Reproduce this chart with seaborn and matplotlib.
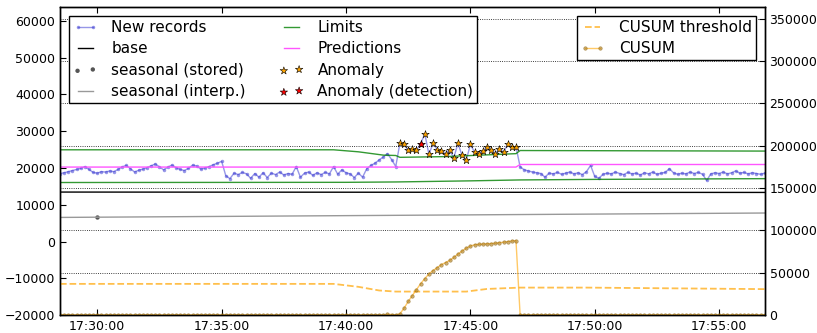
import pandas as pd
import matplotlib
matplotlib.use("Agg")
import matplotlib.pyplot as plt
import matplotlib.dates as mdates
import seaborn as sns

# ---------------- data ----------------
day = "2016-01-01 "
record_times = pd.date_range(day + "17:28:30", periods=171, freq="10s")

new_records = [
    18500, 18700, 19000,
    19300, 19600, 19900, 20400, 19600, 18800,   # 17:29
    18600, 19000, 18900, 19200, 19000, 19600,   # 17:30
    20300, 20700, 19800, 18900, 19400, 19700,   # 17:31
    20100, 20600, 21100, 20300, 19500, 20200,   # 17:32
    20800, 20100, 19600, 19300, 19900, 20800,   # 17:33
    20500, 19700, 20000, 20400, 20900, 21300,   # 17:34
    21800, 17900, 17100, 18600, 18200, 18800,   # 17:35
    18400, 17200, 18500, 17500, 18700, 17400,   # 17:36
    18600, 18200, 18900, 18100, 18500, 18300,   # 17:37
    20400, 17500, 18600, 18900, 18000, 18700,   # 17:38
    18200, 18800, 18400, 20400, 18300, 19500,   # 17:39
    18700, 18400, 17400, 18600, 17500, 19800,   # 17:40
    20700, 21300, 22200, 23000, 23900, 22300,   # 17:41
    20400, 26750, 26400, 24800, 25200, 24800,   # 17:42
    26600, 29300, 23700, 26700, 25000, 24500,   # 17:43
    23900, 24800, 22800, 26700, 23400, 22100,   # 17:44
    26400, 24300, 23900, 24500, 25700, 24900,   # 17:45
    23900, 25200, 24300, 26400, 25600, 25800,   # 17:46
    20300, 19500, 19200, 18900, 18700, 18500,   # 17:47
    17500, 18600, 18400, 18800, 18300, 18600,   # 17:48
    18900, 18400, 18700, 18200, 19000, 20700,   # 17:49
    17700, 17200, 18300, 18600, 18400, 18900,   # 17:50
    18500, 18200, 18800, 18400, 18600, 18100,   # 17:51
    18700, 18400, 18900, 18300, 18600, 18800,   # 17:52
    19800, 18700, 18300, 18600, 18400, 18900,   # 17:53
    18500, 18800, 18300, 16600, 18400, 18700,   # 17:54
    18500, 18900, 18400, 18700, 19200, 18600,   # 17:55
    18800, 18400, 18700, 18500, 18300, 18600,   # 17:56
]

cusum = ([0] * 79 + [800, 600, 0] +
         [1500, 8000, 16000, 23000, 30000, 37000, 43000, 48500, 52500, 56000,
          59500, 62000, 64500, 68000, 72000, 75500, 79000, 81500, 83000, 83500,
          83800, 84000, 84300, 84800, 85500, 86000, 86800, 87500, 88000] +
         [0] * 60)

anomaly_from, anomaly_to = day + "17:42:10", day + "17:46:50"
detection_time = [pd.Timestamp(day + "17:43:00")]
detection_value = [26600]

limit_up_times = ["17:28:30", "17:39:30", "17:40:30", "17:41:30", "17:42:00", "17:42:10",
                  "17:44:00", "17:46:50", "17:47:00", "17:56:50"]
limit_up = [24950, 24950, 24400, 23500, 23400, 22900, 23100, 23900, 24750, 24600]
limit_low_times = ["17:28:30", "17:40:00", "17:42:00", "17:45:00", "17:47:00", "17:50:00", "17:56:50"]
limit_low = [16050, 16100, 16200, 16500, 16750, 16900, 17100]
pred_times = ["17:28:30", "17:46:50", "17:47:00", "17:56:50"]
predictions = [20250, 20250, 20950, 20950]
base_times = ["17:28:30", "17:56:50"]
base = [13450, 13350]
seas_interp_times = ["17:28:30", "17:56:50"]
seas_interp = [6550, 7750]
seas_stored_times = ["17:30:00"]
seas_stored = [6650]
thr_times = ["17:28:30", "17:39:30", "17:40:30", "17:41:20", "17:42:00", "17:44:50",
             "17:45:40", "17:47:00", "17:49:40", "17:56:50"]
cusum_threshold = [36800, 36800, 33300, 29000, 27700, 27700, 30800, 32400, 32400, 30600]


def tt(lst):
    return pd.to_datetime([day + s for s in lst])


records = pd.DataFrame({"time": record_times, "value": new_records, "cusum": cusum})
anomalies = records[(records["time"] >= anomaly_from) & (records["time"] <= anomaly_to)]

# ---------------- plot ----------------
plt.rcParams.update({
    "font.family": "DejaVu Sans",
    "xtick.labelsize": 9, "ytick.labelsize": 9,
    "xtick.direction": "in", "ytick.direction": "in",
    "xtick.major.size": 4, "ytick.major.size": 4,
    "axes.edgecolor": "black", "axes.linewidth": 1.0,
})

fig, ax = plt.subplots(figsize=(8.17, 3.33), dpi=100)
fig.subplots_adjust(left=0.0734, right=0.936, top=0.979, bottom=0.054)
ax2 = ax.twinx()

sns.lineplot(x=records["time"], y=records["value"], ax=ax, color="#3030d0", alpha=0.5,
             marker=".", markersize=5, markeredgewidth=0, linewidth=1)
h_rec = ax.lines[-1]
sns.lineplot(x=tt(base_times), y=base, ax=ax, color="black", linewidth=1)
h_base = ax.lines[-1]
sns.lineplot(x=tt(seas_interp_times), y=seas_interp, ax=ax, color="#999999", linewidth=1)
h_seas_in = ax.lines[-1]
sns.lineplot(x=tt(limit_up_times), y=limit_up, ax=ax, color="g", linewidth=1, alpha=0.8)
sns.lineplot(x=tt(limit_low_times), y=limit_low, ax=ax, color="g", linewidth=1, alpha=0.8)
h_lim = ax.lines[-1]
sns.lineplot(x=tt(pred_times), y=predictions, ax=ax, color="#ff55ff", linewidth=1)
h_pred = ax.lines[-1]
h_seas_st = sns.scatterplot(x=tt(seas_stored_times), y=seas_stored, ax=ax, color="#555555",
                            s=10, linewidth=0).collections[-1]
sns.scatterplot(x=anomalies["time"], y=anomalies["value"], ax=ax, marker="*", s=32,
                color="orange", edgecolor="black", linewidth=0.4, zorder=5)
h_anom = ax.collections[-1]
sns.scatterplot(x=detection_time, y=detection_value, ax=ax, marker="*", s=32,
                color="red", edgecolor="black", linewidth=0.4, zorder=6)
h_det = ax.collections[-1]

sns.lineplot(x=tt(thr_times), y=cusum_threshold, ax=ax2, color="orange", alpha=0.7,
             linestyle="--", linewidth=1.3, dashes=(5, 5))
h_thr = ax2.lines[-1]
sns.lineplot(x=records["time"], y=records["cusum"], ax=ax2, color="orange", alpha=0.6,
             marker=".", markersize=5, markerfacecolor="#b07d1c", markeredgecolor="#8b6410",
             markeredgewidth=0.5, linewidth=1)
h_cus = ax2.lines[-1]

ax.set_xlim(record_times[0], record_times[-1])
ax.set_ylim(-20000, 63800)
ax.set_yticks(range(-20000, 60001, 10000))
ax2.set_ylim(0, 364000)
ax2.set_yticks(range(0, 350001, 50000))
ax.xaxis.set_major_locator(mdates.MinuteLocator(byminute=range(0, 60, 5)))
ax.xaxis.set_major_formatter(mdates.DateFormatter("%H:%M:%S"))
ax.tick_params(axis="x", top=True)
for a in (ax, ax2):
    a.set_xlabel("")
    a.set_ylabel("")
ax2.grid(True, linestyle=":", color="black", linewidth=0.6)

leg1 = ax2.legend([h_rec, h_base, h_seas_st, h_seas_in, h_lim, h_pred, h_anom, h_det],
                  ["New records", "base", "seasonal (stored)", "seasonal (interp.)",
                   "Limits", "Predictions", "Anomaly", "Anomaly (detection)"],
                  loc="upper left", ncol=2, fontsize=11, numpoints=2, scatterpoints=2,
                  fancybox=False, framealpha=1, edgecolor="black", handlelength=1.6,
                  handletextpad=0.9, columnspacing=2.2, labelspacing=0.42, borderpad=0.25,
                  borderaxespad=0.6)
leg1.get_frame().set_linewidth(1.0)
ax2.add_artist(leg1)
leg2 = ax2.legend([h_thr, h_cus], ["CUSUM threshold", "CUSUM"], loc="upper right",
                  fontsize=11, numpoints=2, fancybox=False, framealpha=1, edgecolor="black",
                  handlelength=1.6, handletextpad=0.9, labelspacing=0.42, borderpad=0.25,
                  borderaxespad=0.6)
leg2.get_frame().set_linewidth(1.0)

fig.savefig("out.png", dpi=100)
